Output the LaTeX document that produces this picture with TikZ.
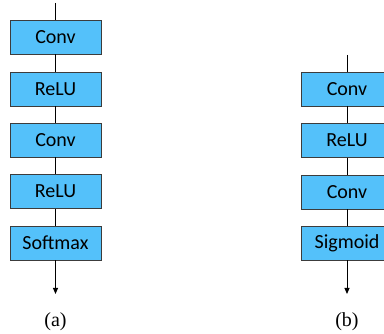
\documentclass[tikz,border=0pt]{standalone}
\usepackage{fontspec}
\setmainfont{Liberation Serif}
\newfontfamily\boxfont{Carlito}
\usetikzlibrary{arrows.meta}
\definecolor{boxblue}{RGB}{84,193,250}
\definecolor{boxedge}{RGB}{60,60,60}
\tikzset{
  layer/.style={draw=boxedge, line width=0.9pt, fill=boxblue, minimum width=91pt, minimum height=34pt, inner sep=0pt, font=\boxfont\fontsize{20}{22}\selectfont},
  conn/.style={line width=0.9pt, black},
  outarrow/.style={conn, -{Triangle[length=6pt,width=5pt]}},
  sublabel/.style={font=\fontsize{20}{22}\selectfont}
}
\begin{document}
\begin{tikzpicture}[x=1pt,y=-1pt]
\useasboundingbox (0,0) rectangle (384,334);
\clip (0,0) rectangle (384,334);
% column (a)
\coordinate (a0) at (55.5,3);
\node[layer] (a1) at (55.5,37) {Conv};
\node[layer] (a2) at (55.5,89) {ReLU};
\node[layer] (a3) at (55.5,140) {Conv};
\node[layer] (a4) at (55.5,191.5) {ReLU};
\node[layer] (a5) at (55.5,243) {Softmax};
\coordinate (a6) at (55.5,294);
\draw[conn] (a0) -- (a1);
\draw[conn] (a1) -- (a2);
\draw[conn] (a2) -- (a3);
\draw[conn] (a3) -- (a4);
\draw[conn] (a4) -- (a5);
\draw[outarrow] (a5) -- (a6);
\node[sublabel] (la) at (55.5,322) {(a)};
% column (b)
\coordinate (b0) at (347,55);
\node[layer] (b1) at (347,89) {Conv};
\node[layer] (b2) at (347,140.5) {ReLU};
\node[layer] (b3) at (347,192) {Conv};
\node[layer] (b4) at (347,243) {Sigmoid};
\coordinate (b5) at (347,294);
\draw[conn] (b0) -- (b1);
\draw[conn] (b1) -- (b2);
\draw[conn] (b2) -- (b3);
\draw[conn] (b3) -- (b4);
\draw[outarrow] (b4) -- (b5);
\node[sublabel] (lb) at (347,322) {(b)};
\end{tikzpicture}
\end{document}
